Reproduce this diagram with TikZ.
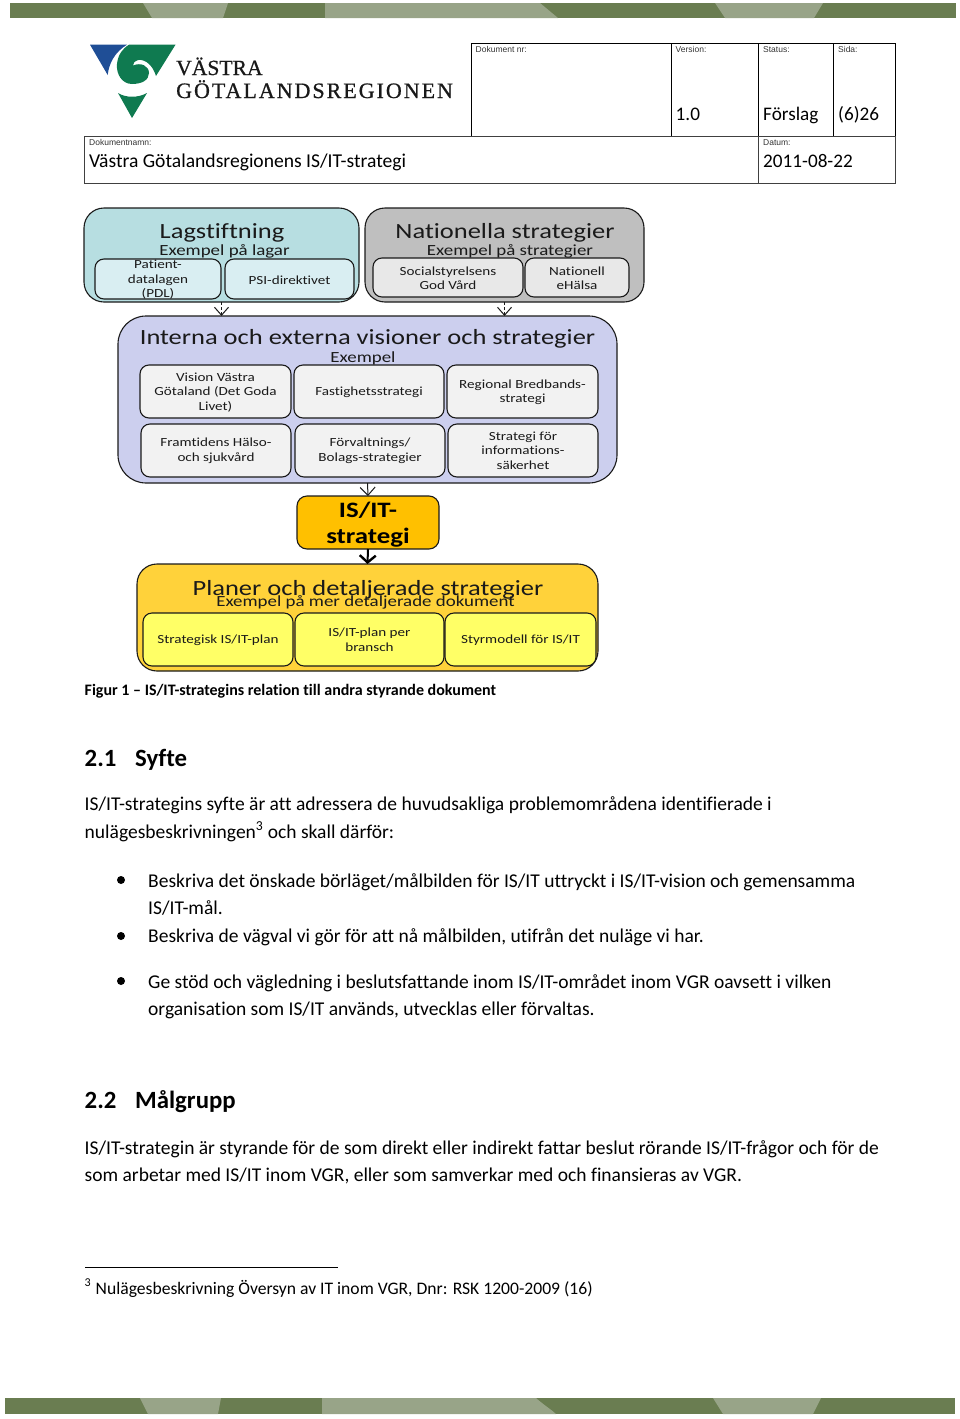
\documentclass[tikz,border=0pt]{standalone}
\usepackage{fontspec}
\setmainfont[Ligatures=NoCommon]{Carlito}
\newfontfamily\diag[FakeStretch=1.22,Ligatures=NoCommon]{Carlito}
\newfontfamily\hdr{Liberation Sans}
\newfontfamily\logofonta[FakeBold=0.8]{Liberation Serif}
\newfontfamily\logofontb[FakeBold=0.8,LetterSpace=9]{Liberation Serif}
\usetikzlibrary{arrows.meta}
\definecolor{banddark}{HTML}{6A7D51}
\definecolor{bandlight}{HTML}{98A488}
\definecolor{logoblue}{HTML}{1F4E96}
\definecolor{logogreen}{HTML}{0F7A50}
\definecolor{lagfill}{HTML}{B7DEE1}
\definecolor{lagin}{HTML}{D9EEF2}
\definecolor{natfill}{HTML}{BFBFBF}
\definecolor{natin}{HTML}{E8E8E8}
\definecolor{intfill}{HTML}{CCCFEE}
\definecolor{intin}{HTML}{F2F2F2}
\definecolor{isfill}{HTML}{FFC000}
\definecolor{planfill}{HTML}{FFD23A}
\definecolor{planin}{HTML}{FFFF66}
\definecolor{ink}{HTML}{1A1A1A}
\tikzset{
  outerbox/.style={draw=ink,line width=1.1pt,rounded corners=20pt,inner sep=0pt,outer sep=0pt},
  innerbox/.style={draw=ink,line width=1.1pt,rounded corners=9pt,inner sep=0pt,outer sep=0pt,font=\diag\fontsize{12.4}{14.6}\selectfont,align=center,text=ink},
  innertext/.style={inner sep=0pt,outer sep=0pt,yshift=-0.8pt,font=\diag\fontsize{12.4}{14.6}\selectfont,align=center,text=ink},
  bigtitle/.style={inner sep=0pt,font=\diag\fontsize{21.7}{24}\selectfont,text=ink},
  subtitle/.style={inner sep=0pt,font=\diag\fontsize{15.5}{17}\selectfont,text=ink},
  body/.style={anchor=base west,inner sep=0pt,font=\fontsize{19.52}{22}\selectfont,text=black},
  heading/.style={anchor=base west,inner sep=0pt,font=\bfseries\fontsize{24.8}{28}\selectfont,text=black},
  headsmall/.style={anchor=base west,inner sep=0pt,font=\hdr\fontsize{8.5}{10}\selectfont,text=black!80},
  headbig/.style={anchor=base west,inner sep=0pt,font=\fontsize{19.2}{22}\selectfont,text=black},
  bulletdot/.style={circle,fill=black,inner sep=0pt,minimum size=8pt},
  thinarrow/.style={draw=ink,line width=0.6pt,densely dashed,-{Straight Barb[length=8pt,width=14pt,line width=1pt]}},
  thinarrowsolid/.style={draw=ink,line width=1pt,-{Straight Barb[length=8pt,width=15pt,line width=1pt]}},
  thickarrow/.style={draw=black,line width=2pt,-{Straight Barb[length=7pt,width=16pt,line width=2.4pt]}},
  tablerule/.style={draw=black!75,line width=1pt},
}
\newcommand{\boxat}[6]{\node[#2,minimum width=#5pt-#3pt,minimum height=#6pt-#4pt] (#1) at ({(#3+#5)/2},{(#4+#6)/2}) {};}
\begin{document}
\begin{tikzpicture}[x=1pt,y=-1pt]
\useasboundingbox (0,0) rectangle (960,1419);
% top band
\fill[banddark] (10,3) rectangle (956,18);
\fill[bandlight] (143,3) -- (228,3) -- (223,18) -- (152,18) -- cycle;
\fill[bandlight] (325,3) -- (540,3) -- (558,18) -- (325,18) -- cycle;
\fill[bandlight] (715,3) -- (823,3) -- (814,18) -- (725,18) -- cycle;
% bottom band
\fill[banddark] (5,1398) rectangle (955,1414);
\fill[bandlight] (140,1398) -- (221,1398) -- (218,1414) -- (148,1414) -- cycle;
\fill[bandlight] (322,1398) -- (536,1398) .. controls (545,1406) and (552,1410) .. (556,1414) -- (322,1414) -- cycle;
\fill[bandlight] (713,1398) -- (821,1398) -- (813,1414) -- (723,1414) -- cycle;
% logo
\fill[logoblue] (90,44.7) -- (127,44.7) .. controls (115,52) and (109,63) .. (107.7,75) -- cycle;
\fill[logogreen] (129,44.7) -- (175.5,44.7) -- (156,76)
  .. controls (153,66) and (146,59) .. (138,60) .. controls (135,60.5) and (133,63) .. (133,65.5)
  .. controls (141,62) and (149,66) .. (149,73) .. controls (149,80) and (142,84) .. (132,84)
  .. controls (122,84) and (116,74) .. (117,64) .. controls (118,55) and (122,49) .. (129,44.7) -- cycle;
\fill[logogreen] (118,93) .. controls (126,98) and (138,98) .. (147,93) -- (132,118) -- cycle;
\node[anchor=base west,inner sep=0pt,font=\logofonta\fontsize{21.6}{25}\selectfont,text=black!90] (logoa) at (176,75) {VÄSTRA};
\node[anchor=base west,inner sep=0pt,font=\logofontb\fontsize{22}{25}\selectfont,text=black!90] (logob) at (176,98) {GÖTALANDSREGIONEN};
% header table
\draw[draw=black,line width=1pt] (471,136) -- (471,43) -- (895,43) -- (895,136);
\draw[draw=black,line width=1pt] (671,43) -- (671,136) (758,43) -- (758,136) (833,43) -- (833,136);
\draw[tablerule] (84,136) rectangle (895,183);
\draw[tablerule] (758,136) -- (758,183);
\node[headsmall] (hdoc) at (475.5,52) {Dokument nr:};
\node[headsmall] (hver) at (675.5,52) {Version:};
\node[headsmall] (hsta) at (763,52) {Status:};
\node[headsmall] (hsid) at (838,52) {Sida:};
\node[headbig] (vver) at (675.5,120) {1.0};
\node[headbig] (vsta) at (763,120) {Förslag};
\node[headbig] (vsid) at (838,120) {(6)26};
\node[headsmall] (hnam) at (89,145.5) {Dokumentnamn:};
\node[headsmall] (hdat) at (763,145.5) {Datum:};
\node[headbig,font=\fontsize{19.6}{22}\selectfont] (vnam) at (89,167) {Västra Götalandsregionens IS/IT-strategi};
\node[headbig] (vdat) at (763,167) {2011-08-22};
% diagram
\boxat{lag}{outerbox,fill=lagfill}{84}{208}{359}{302}
\boxat{nat}{outerbox,fill=natfill}{365}{208}{644}{302}
\boxat{int}{outerbox,fill=intfill,rounded corners=28pt}{118}{316}{617}{483}
\boxat{is}{innerbox,fill=isfill,rounded corners=10pt}{297}{496}{439}{549}
\boxat{plan}{outerbox,fill=planfill}{137}{564}{598}{671}
\node[bigtitle] (lagt) at (222,233) {Lagstiftning};
\node[subtitle] (lags) at (224.5,251) {Exempel på lagar};
\node[bigtitle] (natt) at (505,233) {Nationella strategier};
\node[subtitle] (nats) at (510,251) {Exempel på strategier};
\node[bigtitle] (intt) at (367.5,338.5) {Interna och externa visioner och strategier};
\node[subtitle] (ints) at (363,358.5) {Exempel};
\node[inner sep=0pt,font=\diag\bfseries\fontsize{22}{26}\selectfont,align=center,text=black] (ist) at (368,525) {IS/IT-\\strategi};
\node[bigtitle] (plant) at (368,590) {Planer och detaljerade strategier};
\node[subtitle] (plans) at (365.5,602.5) {Exempel på mer detaljerade dokument};
% inner boxes
\boxat{b1}{innerbox,fill=lagin}{95}{259}{221}{299}
\boxat{b2}{innerbox,fill=lagin}{225}{259}{354}{299}
\boxat{b3}{innerbox,fill=natin}{373}{258}{523}{297}
\boxat{b4}{innerbox,fill=natin}{525}{258}{629}{297}
\boxat{c1}{innerbox,fill=intin}{140}{365}{291}{418}
\boxat{c2}{innerbox,fill=intin}{294}{365}{444}{418}
\boxat{c3}{innerbox,fill=intin}{447}{365}{598}{418}
\boxat{c4}{innerbox,fill=intin}{141}{424}{291}{477}
\boxat{c5}{innerbox,fill=intin}{295}{424}{445}{477}
\boxat{c6}{innerbox,fill=intin}{448}{424}{598}{477}
\boxat{d1}{innerbox,fill=planin}{143}{613}{293}{666}
\boxat{d2}{innerbox,fill=planin}{295}{613}{444}{666}
\boxat{d3}{innerbox,fill=planin}{445}{613}{596}{666}
\path (b1.center) node[innertext] (b1t) {Patient-\\datalagen\\(PDL)};
\path (b2.center) node[innertext] (b2t) {PSI-direktivet};
\path (b3.center) node[innertext] (b3t) {Socialstyrelsens\\God Vård};
\path (b4.center) node[innertext] (b4t) {Nationell\\eHälsa};
\path (c1.center) node[innertext] (c1t) {Vision Västra\\Götaland (Det Goda\\Livet)};
\path (c2.center) node[innertext] (c2t) {Fastighetsstrategi};
\path (c3.center) node[innertext] (c3t) {Regional Bredbands-\\strategi};
\path (c4.center) node[innertext,yshift=0.8pt] (c4t) {Framtidens Hälso-\\och sjukvård};
\path (c5.center) node[innertext,yshift=0.8pt] (c5t) {Förvaltnings/\\Bolags-strategier};
\path (c6.center) node[innertext,yshift=0.8pt] (c6t) {Strategi för\\informations-\\säkerhet};
\path (d1.center) node[innertext] (d1t) {Strategisk IS/IT-plan};
\path (d2.center) node[innertext,yshift=0.8pt] (d2t) {IS/IT-plan per\\bransch};
\path (d3.center) node[innertext] (d3t) {Styrmodell för IS/IT};
% connectors
\draw[thinarrow] (lag.south) -- (lag.south |- int.north);
\draw[thinarrow] (nat.south) -- (nat.south |- int.north);
\draw[thinarrowsolid] (int.south) -- (is.north);
\draw[thickarrow] (is.south) -- (plan.north);
% caption
\node[anchor=base west,inner sep=0pt,font=\bfseries\fontsize{16}{18}\selectfont] (cap) at (84.5,695) {Figur 1 – IS/IT-strategins relation till andra styrande dokument};
% text
\node[heading] (h1a) at (84.5,766) {2.1};
\node[heading] (h1b) at (135,766) {Syfte};
\node[body] (l1) at (84.5,810) {IS/IT-strategins syfte är att adressera de huvudsakliga problemområdena identifierade i};
\node[body] (l2) at (84.5,838) {nulägesbeskrivningen\textsuperscript{3} och skall därför:};
\node[bulletdot] (dot1) at (121,880) {};
\node[body] (l3) at (148,887) {Beskriva det önskade börläget/målbilden för IS/IT uttryckt i IS/IT-vision och gemensamma};
\node[body] (l4) at (148,914) {IS/IT-mål.};
\node[bulletdot] (dot2) at (121,936) {};
\node[body] (l5) at (148,942) {Beskriva de vägval vi gör för att nå målbilden, utifrån det nuläge vi har.};
\node[bulletdot] (dot3) at (121,981) {};
\node[body] (l6) at (148,988) {Ge stöd och vägledning i beslutsfattande inom IS/IT-området inom VGR oavsett i vilken};
\node[body] (l7) at (148,1015) {organisation som IS/IT används, utvecklas eller förvaltas.};
\node[heading] (h2a) at (84.5,1108) {2.2};
\node[heading] (h2b) at (135,1108) {Målgrupp};
\node[body] (l8) at (84.5,1154) {IS/IT-strategin är styrande för de som direkt eller indirekt fattar beslut rörande IS/IT-frågor och för de};
\node[body] (l9) at (84.5,1181) {som arbetar med IS/IT inom VGR, eller som samverkar med och finansieras av VGR.};
\draw[draw=black,line width=0.9pt] (85,1267) -- (338,1267);
\node[anchor=base west,inner sep=0pt,font=\fontsize{12}{14}\selectfont] (fn3) at (84.5,1286) {3};
\node[anchor=base west,inner sep=0pt,font=\fontsize{17.6}{20}\selectfont] (fn) at (95.5,1294) {Nulägesbeskrivning Översyn av IT inom VGR, Dnr: RSK 1200-2009 (16)};
\end{tikzpicture}
\end{document}
